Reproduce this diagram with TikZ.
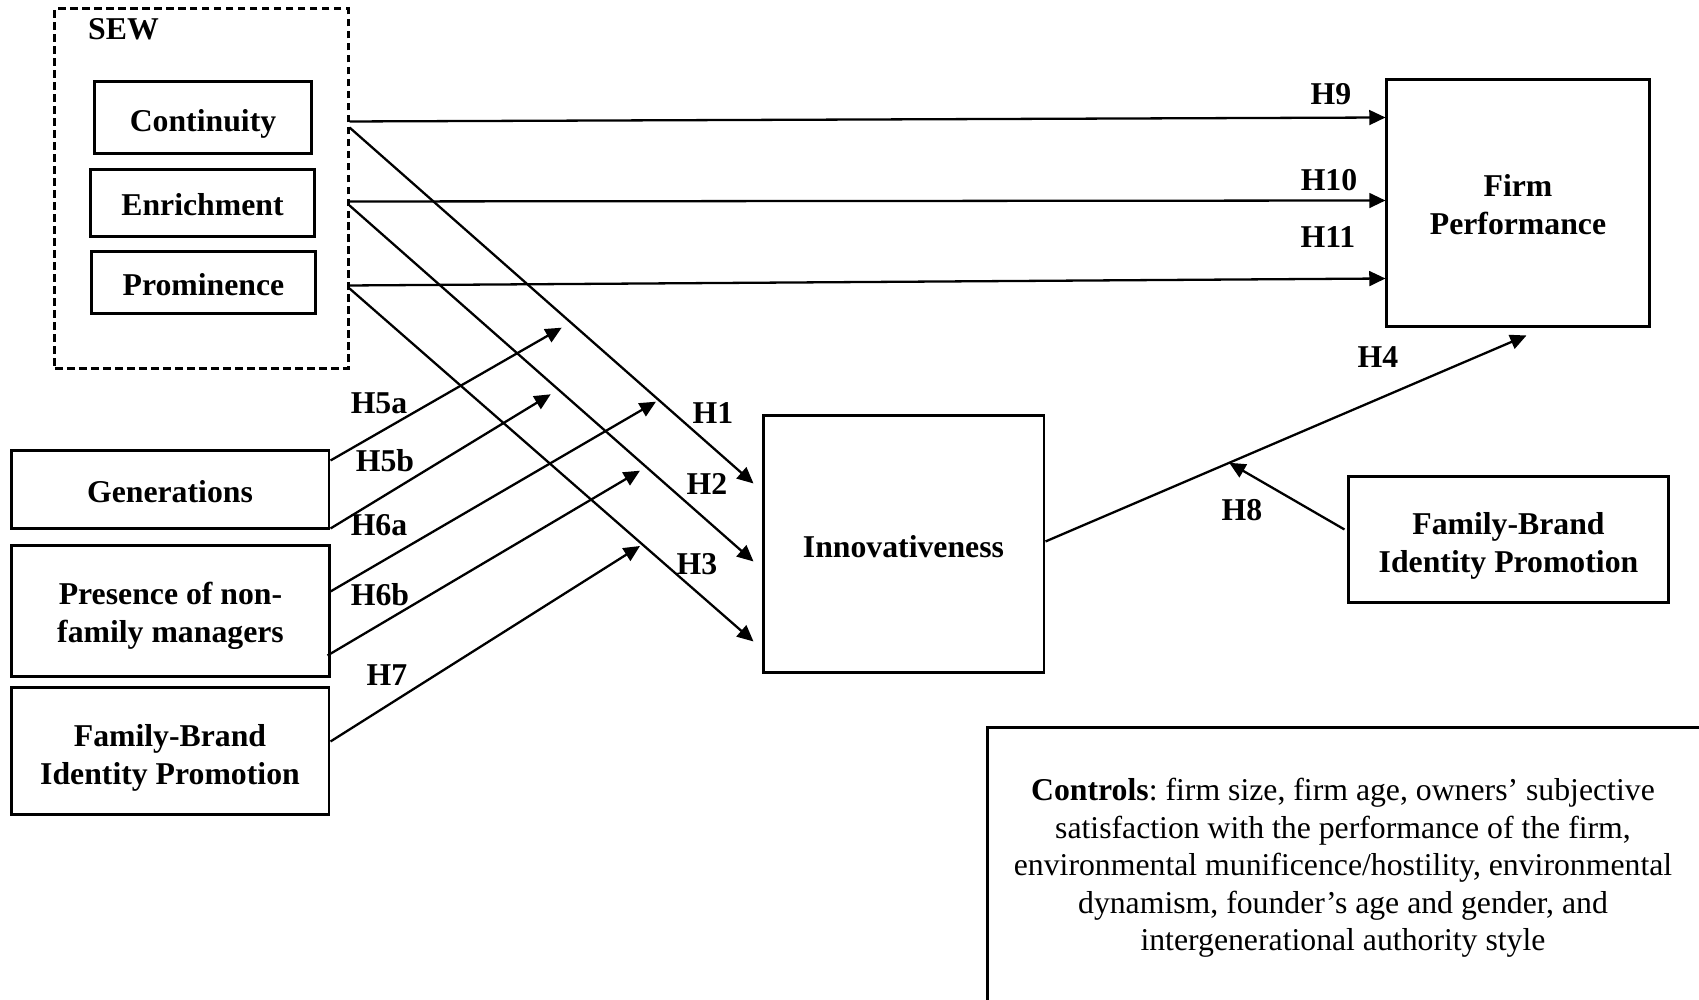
\documentclass[tikz,border=0pt]{standalone}
\usepackage{fontspec}
\setmainfont{Liberation Serif}
\usetikzlibrary{arrows.meta,calc}
\frenchspacing
\begin{document}
\begin{tikzpicture}[x=0.2835pt,y=-0.2835pt,
  box/.style={draw, line width=0.85pt, inner sep=0pt},
  btext/.style={inner sep=0pt, align=center, font=\fontsize{9}{10.8}\selectfont\bfseries},
  arr/.style={line width=0.65pt, -{Triangle[length=4.6pt,width=4.2pt]}},
  hlab/.style={inner sep=0pt, font=\fontsize{9}{10.8}\selectfont\bfseries}]
\useasboundingbox (0,0) rectangle (1699,1000);
\clip (0,0) rectangle (1699,1000);

% SEW group
\node[box, dash pattern=on 2.2pt off 1.2pt, minimum width=83.07pt, minimum height=102.06pt] (sew) at (201.5,189) {};
\node[hlab] (sewlab) at (123.5,29) {SEW};
\node[box, minimum width=61.80pt, minimum height=20.41pt] (cont) at (203,118) {};
\node[btext] (cont-t) at ($(cont.center)+(0,5.5)$) {Continuity};
\node[box, minimum width=63.22pt, minimum height=18.99pt] (enr) at (202.5,203.5) {};
\node[btext] (enr-t) at ($(enr.center)+(0,1.3)$) {Enrichment};
\node[box, minimum width=63.22pt, minimum height=17.58pt] (prom) at (203.5,283) {};
\node[btext] (prom-t) at ($(prom.center)+(0,2)$) {Prominence};

% left moderators
\node[box, minimum width=90.15pt, minimum height=22.11pt] (gen) at (170,490) {};
\node[btext] (gen-t) at ($(gen.center)+(0,2)$) {Generations};
\node[box, minimum width=89.87pt, minimum height=37.14pt] (pres) at (170.5,611.5) {};
\node[btext] (pres-t) at ($(pres.center)+(0,4.5)$) {Presence of non-\\family managers};
\node[box, minimum width=90.15pt, minimum height=36.00pt] (fbl) at (170,751.5) {};
\node[btext] (fbl-t) at ($(fbl.center)+(0,6)$) {Family-Brand\\Identity Promotion};

% central and right
\node[box, minimum width=79.66pt, minimum height=72.86pt] (innov) at (903.5,544.5) {};
\node[btext] (innov-t) at ($(innov.center)+(0,2)$) {Innovativeness};
\node[box, minimum width=74.28pt, minimum height=70.02pt] (fp) at (1518,203.5) {};
\node[btext] (fp-t) at ($(fp.center)+(0,1.5)$) {Firm\\Performance};
\node[box, minimum width=90.44pt, minimum height=35.72pt] (fbr) at (1508.5,540) {};
\node[btext] (fbr-t) at ($(fbr.center)+(0,5.5)$) {Family-Brand\\Identity Promotion};

% controls
\draw[line width=0.85pt] (1712,728) -- (987,728) -- (987,1012);
\node[inner sep=0pt, align=center, font=\fontsize{9}{10.63}\selectfont] (ctrl) at (1343,868)
  {\textbf{Controls}: firm size, firm age, owners’ subjective\\
   satisfaction with the performance of the firm,\\
   environmental munificence/hostility, environmental\\
   dynamism, founder’s age and gender, and\\
   intergenerational authority style};

% direct effects to firm performance
\draw[arr] ($(sew.north east)+(0,114)$) -- ($(fp.north west)+(0,39)$);
\draw[arr] ($(sew.north east)+(0,194)$) -- ($(fp.north west)+(0,122)$);
\draw[arr] ($(sew.north east)+(0,278)$) -- ($(fp.north west)+(0,200)$);

% effects on innovativeness
\draw[arr] ($(sew.north east)+(0,120)$) -- ($(innov.north west)+(-8,69)$);
\draw[arr] ($(sew.north east)+(0,198)$) -- ($(innov.north west)+(-8,147)$);
\draw[arr] ($(sew.north east)+(0,281)$) -- ($(innov.north west)+(-8,227)$);

% innovativeness -> performance
\draw[arr] ($(innov.north east)+(0,127)$) -- coordinate[pos=0.382] (m8) ($(fp.south west)+(141,7)$);
\draw[arr] ($(fbr.north west)+(-3,54)$) -- (m8);

% moderation arrows
\coordinate (t5a) at (561.7,327.7);
\coordinate (t5b) at (550.7,394.3);
\coordinate (t6a) at (656,401.7);
\coordinate (t6b) at (640,470.7);
\coordinate (t7) at (640,546);
\draw[arr] ($(gen.north east)+(0,11)$) -- (t5a);
\draw[arr] ($(gen.south east)+(0,-2)$) -- (t5b);
\draw[arr] ($(pres.north east)+(0,47)$) -- (t6a);
\draw[arr] ($(pres.north east)+(-3,111)$) -- (t6b);
\draw[arr] ($(fbl.north east)+(0,55)$) -- (t7);

% labels
\node[hlab] (l9) at (1331,94) {H9};
\node[hlab] (l10) at (1329,180) {H10};
\node[hlab] (l11) at (1328,237) {H11};
\node[hlab] (l1) at (713,413) {H1};
\node[hlab] (l2) at (707,484) {H2};
\node[hlab] (l3) at (697,564) {H3};
\node[hlab] (l4) at (1378,357) {H4};
\node[hlab] (l8) at (1242,510) {H8};
\node[hlab] (l5a) at (379,403) {H5a};
\node[hlab] (l5b) at (385,461) {H5b};
\node[hlab] (l6a) at (379,525) {H6a};
\node[hlab] (l6b) at (380,595) {H6b};
\node[hlab] (l7) at (387,675) {H7};
\end{tikzpicture}
\end{document}
